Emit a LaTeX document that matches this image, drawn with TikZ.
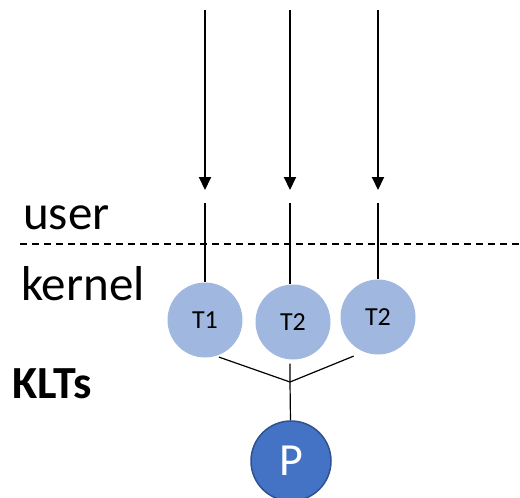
\documentclass[tikz,border=0pt]{standalone}
\usepackage{fontspec}
\setmainfont{Carlito}
\usetikzlibrary{arrows.meta, positioning, calc}
\definecolor{ThreadBlue}{HTML}{A0B8E0}
\definecolor{ProcBlue}{HTML}{4472C4}
\definecolor{ProcEdge}{HTML}{2F528F}

\begin{document}
\begin{tikzpicture}[>={Triangle[length=13pt,width=12pt]}, x=1pt, y=-1pt,
    thread/.style={circle, fill=ThreadBlue, minimum size=75pt, inner sep=0pt, font=\fontsize{26}{28}\selectfont},
    proc/.style={circle, fill=ProcBlue, draw=ProcEdge, line width=1.5pt, minimum size=80pt, inner sep=0pt, text=white, font=\fontsize{46}{48}\selectfont},
    label/.style={anchor=base west, inner sep=0pt, font=\fontsize{49}{51}\selectfont}]
    \useasboundingbox (0,0) rectangle (520,498);

    % Mode labels
    \node[label] (user) at (23,229) {user};
    \node[label] (kernel) at (21,300) {kernel};
    \node[label, font=\fontsize{46}{48}\selectfont\bfseries] (klts) at (12,398) {KLTs};

    % Boundary
    \coordinate (bl) at (20,244);
    \coordinate (br) at (520,244);
    \draw[line width=1.5pt, dash pattern=on 7pt off 5pt] (bl) -- (br);

    % Kernel threads
    \node[thread] (t1) at (205,320) {T1};
    \node[thread] (t2) at (293,322) {T2};
    \node[thread] (t3) at (378,317) {T2};

    % Calls coming down
    \foreach \x/\n in {205/1, 290/2, 378/3} {
        \coordinate (top\n) at (\x,10);
        \coordinate (tip\n) at (\x,190);
        \coordinate (up\n) at (\x,203);
        \draw[->, line width=2pt] (top\n) -- (tip\n);
        \draw[line width=1.2pt] (up\n) -- (up\n |- t\n.north);
    }

    % Process
    \node[proc] (p) at (291,461) {P};
    \coordinate (fork) at (290,382);
    \draw[line width=1.2pt, shorten <=3pt] (t1.-73) -- (fork);
    \draw[line width=1.2pt, shorten <=11pt] (t3.-112) -- (fork);
    \draw[line width=1.2pt, shorten <=4pt] (t2.south -| fork) -- (fork) -- (p);
\end{tikzpicture}
\end{document}
